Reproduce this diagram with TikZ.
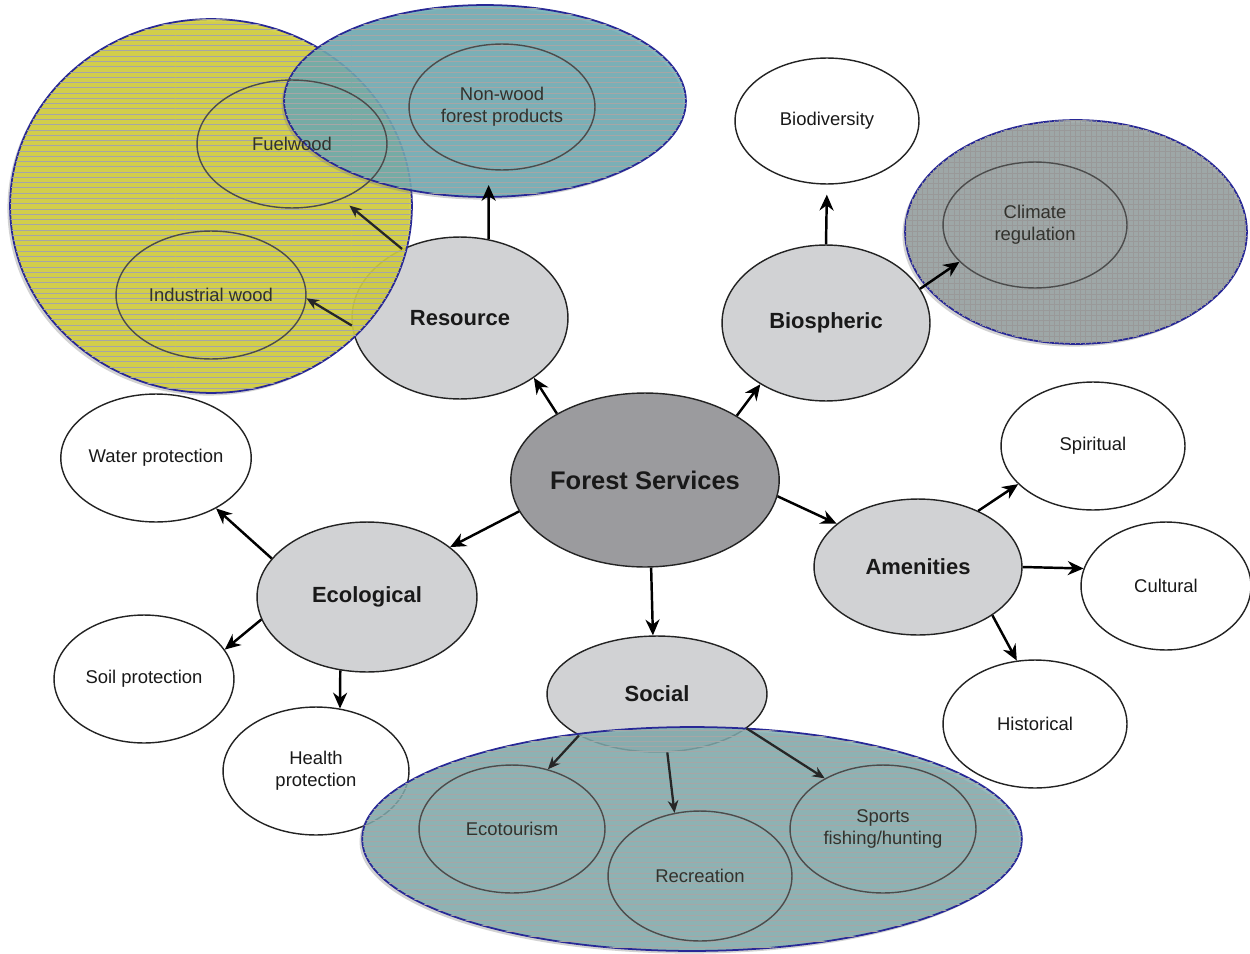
\documentclass[tikz,border=0pt]{standalone}
\usepackage{fontspec}
\setmainfont{Liberation Sans}
\usetikzlibrary{shapes.geometric,arrows.meta,patterns,shadows}
\definecolor{fsgray}{RGB}{155,155,158}
\definecolor{catgray}{RGB}{209,210,212}
\definecolor{edge}{RGB}{35,35,35}
\definecolor{ovblue}{RGB}{40,40,150}
\definecolor{ovyellow}{RGB}{210,206,56}
\definecolor{ovteal}{RGB}{108,170,178}
\definecolor{ovgray}{RGB}{150,160,160}
\definecolor{ovbteal}{RGB}{125,170,172}
\definecolor{txt}{RGB}{25,25,25}
\definecolor{intxt}{RGB}{50,50,45}
\tikzset{
  sz/.style 2 args={minimum width=#1*0.04cm, minimum height=#2*0.04cm},
  ell/.style={ellipse, draw=edge, line width=0.8pt, inner sep=0pt, align=center, text=txt},
  leaf/.style={ell, fill=white, font=\fontsize{10.5}{12.5}\selectfont},
  inner/.style={ellipse, draw=black!70, line width=0.8pt, inner sep=0pt, align=center,
     text=intxt, font=\fontsize{10.5}{12.5}\selectfont},
  cat/.style={ell, fill=catgray, font=\bfseries\fontsize{12.5}{14}\selectfont},
  core/.style={ell, fill=fsgray, font=\bfseries\fontsize{14.5}{16}\selectfont},
  arr/.style={draw=black, line width=1.4pt, -{Stealth[length=9pt,width=8pt]}},
  inarr/.style={draw=black!85, line width=1.3pt, -{Stealth[length=7pt,width=6pt]}},
  overlay/.style={ellipse, inner sep=0pt, draw=ovblue, line width=1pt,
     drop shadow={shadow xshift=-1.5pt, shadow yshift=-1.5pt, opacity=0.35}},
}
\begin{document}
\begin{tikzpicture}[x=0.02cm,y=-0.02cm]
\useasboundingbox[fill=white] (0,0) rectangle (1250,953);

% leaves
\node[leaf, sz={92}{64}] (water) at (156,458) {Water protection};
\node[leaf, sz={90}{64}] (soil) at (144,679) {Soil protection};
\node[leaf, sz={93}{64}] (health) at (316,771) {Health\\protection};
\node[leaf, sz={92}{63}] (biod) at (827,121) {Biodiversity};
\node[leaf, sz={92}{64}] (spir) at (1093,446) {Spiritual};
\node[leaf, sz={85}{64}] (cult) at (1166,586) {Cultural};
\node[leaf, sz={92}{64}] (hist) at (1035,724) {Historical};

% categories
\node[cat, sz={108}{81}] (res) at (460,318) {Resource};
\node[cat, sz={104}{78}] (bio) at (826,323) {Biospheric};
\node[cat, sz={104}{68}] (amen) at (918,567) {Amenities};
\node[cat, sz={110}{75}] (eco) at (367,597) {Ecological};
\node[cat, sz={110}{58}] (soc) at (657,694) {Social};

% core
\node[core, sz={133}{87}] (fs) at (645,480) {Forest Services};

% arrows
\draw[arr] (fs.143) -- (res.321);
\draw[arr] (fs.35) -- (bio.223);
\draw[arr] (fs.353) -- (amen.152);
\draw[arr] (fs.194) -- (eco.31);
\draw[arr] (fs.274.6) -- (soc.94.7);

\draw[arr, shorten >=0.2cm] (bio.90) -- (biod.270);

\draw[arr] (amen.43) -- (spir.207);
\draw[arr] (amen.0) -- (cult.168);
\draw[arr] (amen.327) -- (hist.106);

\draw[arr] (eco.158) -- (water.320);
\draw[arr] (eco.192) -- (soil.20);
\draw[arr] (eco.250) -- (health.69);

% translucent overlays
\node[overlay, sz={201}{187}, fill=ovyellow, fill opacity=0.88,
      postaction={pattern=horizontal lines, pattern color=black!35}] (ovy) at (211,206) {};
\node[overlay, sz={201}{96}, fill=ovteal, fill opacity=0.85,
      postaction={pattern=horizontal lines, pattern color=black!35}] (ovt) at (485,101) {};
\node[overlay, sz={171}{112}, fill=ovgray, fill opacity=0.85,
      postaction={pattern=grid, pattern color=black!40}] (ovc) at (1076,232) {};
\node[overlay, sz={330}{112}, fill=ovbteal, fill opacity=0.8,
      postaction={pattern=horizontal lines, pattern color=black!35}] (ovb) at (692,839) {};

% nodes seen through the overlays
\node[inner, sz={95}{64}] (fuel) at (292,144) {Fuelwood};
\node[inner, sz={95}{64}] (ind) at (211,295) {Industrial wood};
\node[inner, sz={93}{63}] (nwfp) at (502,107) {Non-wood\\forest products};
\node[inner, sz={92}{63}] (clim) at (1035,225) {Climate\\regulation};
\node[inner, sz={93}{64}] (ecot) at (512,829) {Ecotourism};
\node[inner, sz={92}{65}] (recr) at (700,876) {Recreation};
\node[inner, sz={93}{64}] (sport) at (883,829) {Sports\\fishing/hunting};

\draw[arr, shorten >=0.3cm] (res.70) -- (nwfp.258);
\draw[inarr, shorten >=0.2cm] (res.130) -- (fuel.312);
\draw[inarr] (res.184) -- (ind.358);
\draw[arr] (bio.20) -- (clim.206);
\draw[inarr] (soc.208) -- (ecot.59);
\draw[inarr] (soc.280) -- (recr.112);
\draw[inarr] (soc.339) -- (sport.139);
\end{tikzpicture}
\end{document}
